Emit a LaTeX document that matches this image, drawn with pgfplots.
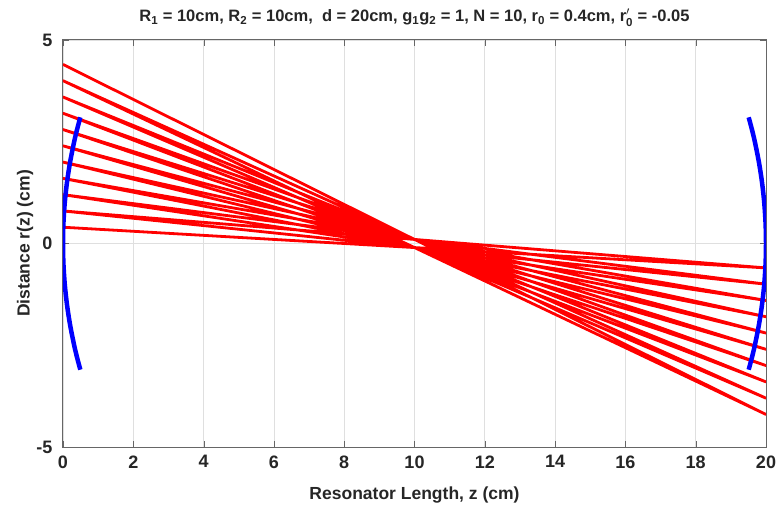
\documentclass[border=0pt]{standalone}
\usepackage{pgfplots}
\pgfplotsset{compat=1.18}
\usepackage{fontspec}
\setmainfont{Liberation Sans}
\begin{document}
\begin{tikzpicture}
\begin{axis}[
  scale only axis,
  width=703pt, height=407pt,
  xmin=0, xmax=20, ymin=-5, ymax=5,
  xtick={0,2,...,20}, ytick={-5,0,5},
  xmajorgrids, ymajorgrids,
  grid style={gray!25, line width=0.8pt},
  axis line style={gray!80!black, line width=1pt},
  tick style={gray!80!black},
  tick align=inside,
  major tick length=6pt,
  /pgf/number format/assume math mode=true,
  ticklabel style={font=\fontsize{18}{20}\selectfont\bfseries, text=black!85},
  xticklabel style={yshift=-5pt},
  yticklabel style={xshift=-7pt},
  label style={font=\fontsize{17.5}{20}\selectfont\bfseries, text=black!85},
  xlabel={Resonator Length, z (cm)},
  ylabel={Distance r(z) (cm)},
  xlabel style={at={(axis description cs:0.5,-0.118)}, anchor=center},
  ylabel style={at={(axis description cs:-0.054,0.5)}, anchor=center, rotate=0},
  title style={font=\fontsize{16.5}{19}\selectfont\bfseries, text=black!85, at={(axis description cs:0.5,1.04)}, anchor=center, yshift=0pt},
  title={R$_\mathbf{1}$ = 10cm, R$_\mathbf{2}$ = 10cm,\ \ d = 20cm, g$_\mathbf{1}$g$_\mathbf{2}$ = 1, N = 10, r$_\mathbf{0}$ = 0.4cm, r$'_\mathbf{0}$ = -0.05},
  clip=true,
]
\addplot[red, line width=2.8pt, line join=round] coordinates {
(0,0.4) (20,-0.6) (0,0.8) (20,-1.0) (0,1.2) (20,-1.4) (0,1.6) (20,-1.8)
(0,2.0) (20,-2.2) (0,2.4) (20,-2.6) (0,2.8) (20,-3.0) (0,3.2) (20,-3.4)
(0,3.6) (20,-3.8) (0,4.0) (20,-4.2) (0,4.4)
};
\addplot[blue, line width=4.5pt, smooth] coordinates {
(0.493,3.1) (0.4,2.8) (0.3175,2.5) (0.202,2.0) (0.113,1.5) (0.050,1.0) (0.0125,0.5) (0,0)
(0.0125,-0.5) (0.050,-1.0) (0.113,-1.5) (0.202,-2.0) (0.3175,-2.5) (0.4,-2.8) (0.493,-3.1)
};
\addplot[blue, line width=4.5pt, smooth] coordinates {
(19.507,3.1) (19.6,2.8) (19.6825,2.5) (19.798,2.0) (19.887,1.5) (19.950,1.0) (19.9875,0.5) (20,0)
(19.9875,-0.5) (19.950,-1.0) (19.887,-1.5) (19.798,-2.0) (19.6825,-2.5) (19.6,-2.8) (19.507,-3.1)
};
\coordinate (SW) at (rel axis cs:0,0);
\coordinate (NE) at (rel axis cs:1,1);
\end{axis}
\pgfresetboundingbox
\path ([shift={(-63pt,-62pt)}]SW) rectangle ([shift={(18pt,40pt)}]NE);
\end{tikzpicture}
\end{document}
